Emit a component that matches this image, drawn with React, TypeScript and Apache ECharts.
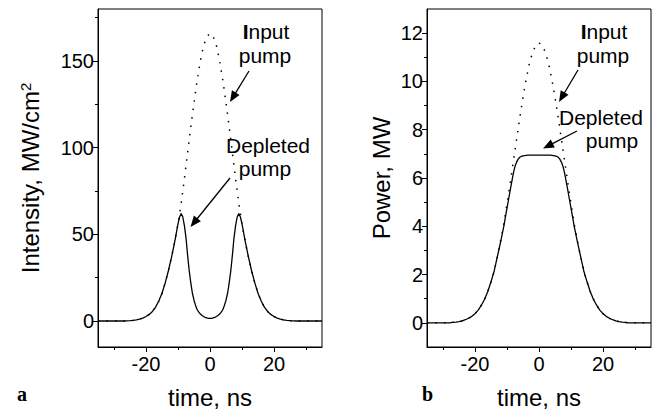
import React, { useEffect, useRef } from "react";
import * as echarts from "echarts";

// ---- data ----
const tCoarse = [
  -35, -34, -33, -32, -31, -30, -29, -28, -27, -26, -25, -24, -23, -22, -21, -20, -19, -18,
  -17, -16, -15, -14, -13, -12, -11, -10, -9, -8, -7, -6, -5, -4, -3, -2, -1, 0, 1, 2, 3, 4,
  5, 6, 7, 8, 9, 10, 11, 12, 13, 14, 15, 16, 17, 18, 19, 20, 21, 22, 23, 24, 25, 26, 27, 28,
  29, 30, 31, 32, 33, 34, 35,
];

const tFine = [
  -35, -34, -33, -32, -31, -30, -29, -28, -27, -26, -25, -24, -23, -22, -21, -20, -19, -18,
  -17, -16, -15, -14, -13, -12,
  -11, -10.5, -10, -9.5, -9, -8.5, -8, -7.5, -7, -6.5, -6, -5.5, -5, -4.5, -4, -3.5, -3,
  -2.5, -2, -1.5, -1, -0.5,
  0,
  0.5, 1, 1.5, 2, 2.5, 3, 3.5, 4, 4.5, 5, 5.5, 6, 6.5, 7, 7.5, 8, 8.5, 9, 9.5, 10, 10.5, 11,
  12, 13, 14, 15, 16, 17, 18, 19, 20, 21, 22, 23, 24, 25, 26, 27, 28, 29, 30, 31, 32, 33, 34, 35,
];

// panel a: intensity, MW/cm^2
const inputA = [
  0, 0, 0, 0, 0, 0, 0, 0, 0,
  0.1, 0.2, 0.4, 0.7, 1.1, 1.7, 2.6, 3.8, 5.5, 8, 11.5, 16, 22, 29, 37, 46, 56, 68, 82, 97,
  112, 126, 139, 150, 159, 164,
  166,
  164, 159, 150, 139, 126, 112, 97, 82, 68, 56, 46, 37, 29, 22, 16, 11.5, 8, 5.5, 3.8, 2.6,
  1.7, 1.1, 0.7, 0.4, 0.2, 0.1,
  0, 0, 0, 0, 0, 0, 0, 0, 0,
];

const depletedA = [
  0, 0, 0, 0, 0, 0, 0, 0, 0,
  0.1, 0.2, 0.4, 0.7, 1.1, 1.7, 2.6, 3.8, 5.5, 8, 11.5, 16, 22, 29, 37,
  46, 51, 56, 60, 62, 60, 55, 48, 38, 29, 22, 16, 12, 9, 6.5, 5.1, 4.0, 3.2, 2.6, 2.1, 1.8, 1.55,
  1.5,
  1.55, 1.8, 2.1, 2.6, 3.2, 4.0, 5.1, 6.5, 9, 12, 16, 22, 29, 38, 48, 55, 60, 62, 60, 56, 51, 46,
  37, 29, 22, 16, 11.5, 8, 5.5, 3.8, 2.6, 1.7, 1.1, 0.7, 0.4, 0.2, 0.1,
  0, 0, 0, 0, 0, 0, 0, 0, 0,
];

// panel b: power, MW
const inputB = [
  0, 0, 0, 0, 0, 0, 0, 0,
  0.02, 0.03, 0.05, 0.08, 0.13, 0.19, 0.27, 0.38, 0.53, 0.73, 0.98, 1.3, 1.7, 2.15, 2.75, 3.4,
  4.1, 4.95, 5.8, 6.7, 7.6, 8.5, 9.35, 10.1, 10.75, 11.2, 11.5,
  11.6,
  11.5, 11.2, 10.75, 10.1, 9.35, 8.5, 7.6, 6.7, 5.8, 4.95, 4.1, 3.4, 2.75, 2.15, 1.7, 1.3, 0.98,
  0.73, 0.53, 0.38, 0.27, 0.19, 0.13, 0.08, 0.05, 0.03, 0.02,
  0, 0, 0, 0, 0, 0, 0, 0,
];

const depletedB = [
  0, 0, 0, 0, 0, 0, 0, 0,
  0.02, 0.03, 0.05, 0.08, 0.13, 0.19, 0.27, 0.38, 0.53, 0.73, 0.98, 1.3, 1.7, 2.15, 2.75, 3.35,
  4.0, 4.38, 4.75, 5.12, 5.5, 5.85, 6.2, 6.48, 6.66, 6.78, 6.86, 6.9, 6.92, 6.93, 6.94, 6.95,
  6.95, 6.95, 6.95, 6.95, 6.95, 6.95,
  6.95,
  6.95, 6.95, 6.95, 6.95, 6.95, 6.95, 6.95, 6.94, 6.93, 6.92, 6.9, 6.86, 6.78, 6.66, 6.48, 6.2,
  5.85, 5.5, 5.12, 4.75, 4.38, 4.0,
  3.35, 2.75, 2.15, 1.7, 1.3, 0.98, 0.73, 0.53, 0.38, 0.27, 0.19, 0.13, 0.08, 0.05, 0.03, 0.02,
  0, 0, 0, 0, 0, 0, 0, 0,
];

const xMajorTicks = [-20, 0, 20];
const xMinorTicks = [-30, -10, 10, 30];
const yMajorTicksA = [0, 50, 100, 150];
const yMinorTicksA = [25, 75, 125, 175];
const yMajorTicksB = [0, 2, 4, 6, 8, 10, 12];
const yMinorTicksB = [1, 3, 5, 7, 9, 11];

const FONT = "'Liberation Sans', Arial, Helvetica, sans-serif";
const SERIF = "'Liberation Serif', 'Times New Roman', serif";

function pairs(t: number[], v: number[]) {
  return t.map((x, i) => [x, v[i]]);
}

function arrow(x1: number, y1: number, x2: number, y2: number) {
  const dx = x2 - x1;
  const dy = y2 - y1;
  const len = Math.hypot(dx, dy);
  const ux = dx / len;
  const uy = dy / len;
  const L = 11;
  const W = 4.5;
  const bx = x2 - ux * L;
  const by = y2 - uy * L;
  return [
    {
      type: "line",
      shape: { x1, y1, x2: bx + ux * 2, y2: by + uy * 2 },
      style: { stroke: "#000", lineWidth: 1.3 },
    },
    {
      type: "polygon",
      shape: {
        points: [
          [x2, y2],
          [bx - uy * W, by + ux * W],
          [bx + uy * W, by - ux * W],
        ],
      },
      style: { fill: "#000" },
    },
  ];
}

function label(text: string, x: number, y: number) {
  return {
    type: "text",
    x,
    y,
    style: {
      text,
      fill: "#000",
      fontSize: 21,
      fontFamily: FONT,
      align: "center",
      verticalAlign: "middle",
      rich: {
        b: { fontSize: 21, fontFamily: FONT, fontWeight: "bold", fill: "#000" },
        n: { fontSize: 21, fontFamily: FONT, fill: "#000" },
      },
    },
  };
}

function xAxes(gridIndex: number) {
  return [
    {
      gridIndex,
      type: "value",
      min: -35,
      max: 35,
      position: "bottom",
      name: "time, ns",
      nameLocation: "middle",
      nameGap: 38,
      nameTextStyle: { fontSize: 24, fontFamily: FONT, color: "#000" },
      axisLine: { show: true, onZero: false, lineStyle: { color: "#000", width: 1 } },
      axisTick: { show: true, length: 5, customValues: xMajorTicks, lineStyle: { color: "#000" } },
      axisLabel: { customValues: xMajorTicks, fontSize: 20, fontFamily: FONT, color: "#000", margin: 7 },
      splitLine: { show: false },
    },
    {
      gridIndex,
      type: "value",
      min: -35,
      max: 35,
      position: "bottom",
      axisLine: { show: false, onZero: false },
      axisTick: { show: true, length: 3, customValues: xMinorTicks, lineStyle: { color: "#000" } },
      axisLabel: { show: false },
      splitLine: { show: false },
    },
  ];
}

function yAxes(
  gridIndex: number,
  min: number,
  max: number,
  major: number[],
  minor: number[],
  name: string,
  nameGap: number
) {
  return [
    {
      gridIndex,
      type: "value",
      min,
      max,
      position: "left",
      name,
      nameLocation: "middle",
      nameGap,
      nameTextStyle: {
        fontSize: 24,
        fontFamily: FONT,
        color: "#000",
        rich: {
          s: { fontSize: 15, fontFamily: FONT, color: "#000", verticalAlign: "top" },
        },
      },
      axisLine: { show: true, onZero: false, lineStyle: { color: "#000", width: 1 } },
      axisTick: { show: true, length: 5, customValues: major, lineStyle: { color: "#000" } },
      axisLabel: { customValues: major, fontSize: 20, fontFamily: FONT, color: "#000", margin: 4 },
      splitLine: { show: false },
    },
    {
      gridIndex,
      type: "value",
      min,
      max,
      position: "left",
      axisLine: { show: false, onZero: false },
      axisTick: { show: true, length: 3, customValues: minor, lineStyle: { color: "#000" } },
      axisLabel: { show: false },
      splitLine: { show: false },
    },
  ];
}

const dotted = { color: "#000", width: 1.5, type: [1.5, 7] as number[] };
const solid = { color: "#000", width: 1.3 };

const option = {
  animation: false,
  backgroundColor: "#fff",
  textStyle: { fontFamily: FONT },
  grid: [
    {
      left: 98, top: 9, width: 224, height: 338,
      show: true, borderColor: "#000", borderWidth: 1, backgroundColor: "transparent",
      containLabel: false, outerBoundsMode: "none",
    },
    {
      left: 427, top: 9, width: 224, height: 338,
      show: true, borderColor: "#000", borderWidth: 1, backgroundColor: "transparent",
      containLabel: false, outerBoundsMode: "none",
    },
  ],
  xAxis: [...xAxes(0), ...xAxes(1)],
  yAxis: [
    ...yAxes(0, -15, 180, yMajorTicksA, yMinorTicksA, "Intensity, MW/cm{s|2}", 56),
    ...yAxes(1, -1, 13, yMajorTicksB, yMinorTicksB, "Power, MW", 34),
  ],
  series: [
    {
      name: "Input pump (a)", type: "line", xAxisIndex: 0, yAxisIndex: 0,
      data: pairs(tCoarse, inputA), symbol: "none", lineStyle: dotted, z: 2,
    },
    {
      name: "Depleted pump (a)", type: "line", xAxisIndex: 0, yAxisIndex: 0,
      data: pairs(tFine, depletedA), symbol: "none", lineStyle: solid, z: 3,
    },
    {
      name: "Input pump (b)", type: "line", xAxisIndex: 2, yAxisIndex: 2,
      data: pairs(tCoarse, inputB), symbol: "none", lineStyle: dotted, z: 2,
    },
    {
      name: "Depleted pump (b)", type: "line", xAxisIndex: 2, yAxisIndex: 2,
      data: pairs(tFine, depletedB), symbol: "none", lineStyle: solid, z: 3,
    },
  ],
  graphic: [
    label("{b|I}{n|nput}", 266, 31),
    label("pump", 265, 55),
    label("Depleted", 268, 145),
    label("pump", 265, 168),
    ...arrow(249, 71, 230, 102),
    ...arrow(230, 178, 190.5, 227),
    label("{b|I}{n|nput}", 604, 31),
    label("pump", 603, 55),
    label("Depleted", 601, 117),
    label("pump", 612, 140),
    ...arrow(578, 70, 559, 102),
    ...arrow(577, 131, 543, 148.5),
    {
      type: "text", x: 17, y: 394,
      style: { text: "a", fill: "#000", fontSize: 20, fontWeight: "bold", fontFamily: SERIF, align: "left", verticalAlign: "middle" },
    },
    {
      type: "text", x: 422, y: 394,
      style: { text: "b", fill: "#000", fontSize: 20, fontWeight: "bold", fontFamily: SERIF, align: "left", verticalAlign: "middle" },
    },
  ],
};

export default function App() {
  const ref = useRef<HTMLDivElement>(null);
  useEffect(() => {
    document.body.style.margin = "0";
    const chart = echarts.init(ref.current as HTMLDivElement, null, { renderer: "svg" });
    chart.setOption(option as any);
    return () => {
      chart.dispose();
    };
  }, []);
  return (
    <div
      ref={ref}
      style={{ position: "absolute", left: 0, top: 0, width: 654, height: 409, background: "#fff" }}
    />
  );
}
